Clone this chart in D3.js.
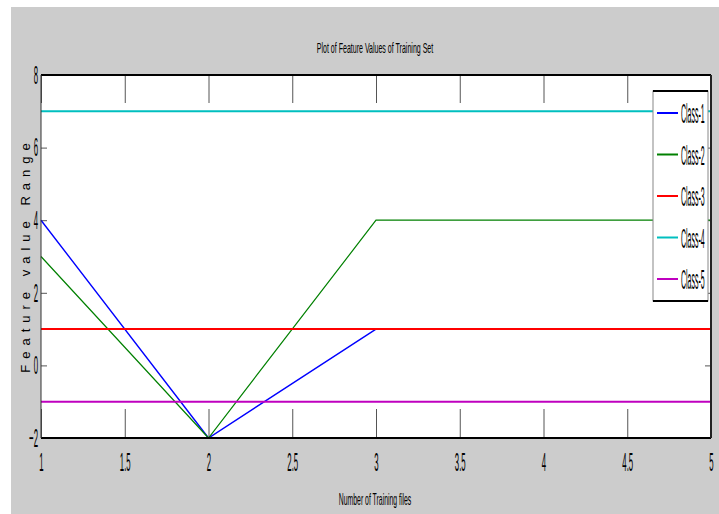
<!DOCTYPE html>
<html>
<head>
<meta charset="utf-8">
<script src="https://cdn.jsdelivr.net/npm/d3@7"></script>
<style>
  body { margin: 0; background: #fff; }
  svg { display: block; }
  text { font-family: "Liberation Sans", Arial, sans-serif; fill: #000; }
</style>
</head>
<body>
<svg id="chart" width="719" height="514"></svg>
<script>
// data
const classNames = ['Class-1', 'Class-2', 'Class-3', 'Class-4', 'Class-5'];
const classColors = ['#0000ff', '#008000', '#ff0000', '#00bfbf', '#bf00bf'];
const class1 = [[1, 4], [2, -2], [3, 1]];
const class2 = [[1, 3], [2, -2], [3, 4], [4, 4], [5, 4]];
const class3 = [[1, 1], [2, 1], [3, 1], [4, 1], [5, 1]];
const class4 = [[1, 7], [2, 7], [3, 7], [4, 7], [5, 7]];
const class5 = [[1, -1], [2, -1], [3, -1], [4, -1], [5, -1]];
const xTicks = [1, 1.5, 2, 2.5, 3, 3.5, 4, 4.5, 5];
const yTicks = [-2, 0, 2, 4, 6, 8];

const series = [class1, class2, class3, class4, class5];
const widths = [1.4, 1.2, 2, 2, 2];

const svg = d3.select('#chart');
const margin = {top: 75, right: 8, bottom: 76, left: 41};
const W = 719, H = 514;

// gray figure background
svg.append('rect')
  .attr('x', 11).attr('y', 7)
  .attr('width', W - 11).attr('height', H - 7)
  .attr('fill', '#cccccc');

const x = d3.scaleLinear().domain([1, 5]).range([margin.left, W - margin.right]);
const y = d3.scaleLinear().domain([-2, 8]).range([H - margin.bottom, margin.top]);

svg.append('rect')
  .attr('x', x(1)).attr('y', y(8))
  .attr('width', x(5) - x(1)).attr('height', y(-2) - y(8))
  .attr('fill', '#fff');

// squeeze tick text horizontally like the stretched original
const squeeze = (g, sx, xPos) => g.selectAll('text')
  .attr('font-size', 26)
  .attr('fill', '#112')
  .attr('x', xPos / sx)
  .attr('transform', `scale(${sx},1)`);

const tickStyle = g => {
  g.select('.domain').remove();
  g.selectAll('.tick line').attr('stroke', '#555').attr('stroke-width', 1);
};

svg.append('g')
  .attr('transform', `translate(0,${y(-2)})`)
  .call(d3.axisBottom(x).tickValues(xTicks).tickFormat(d3.format('')).tickSize(-29).tickPadding(15))
  .call(tickStyle)
  .call(g => squeeze(g, 0.3, 0));

svg.append('g')
  .attr('transform', `translate(0,${y(8)})`)
  .call(d3.axisTop(x).tickValues(xTicks).tickFormat('').tickSize(-28))
  .call(tickStyle);

svg.append('g')
  .attr('transform', `translate(${x(1)},0)`)
  .call(d3.axisLeft(y).tickValues(yTicks).tickFormat(d3.format('')).tickSize(-6))
  .call(tickStyle)
  .call(g => squeeze(g, 0.3, -3));

svg.append('g')
  .attr('transform', `translate(${x(5)},0)`)
  .call(d3.axisRight(y).tickValues(yTicks).tickFormat('').tickSize(-6))
  .call(tickStyle);

// lines
const line = d3.line().x(d => x(d[0])).y(d => y(d[1]));
series.forEach((s, i) => {
  svg.append('path')
    .datum(s)
    .attr('fill', 'none')
    .attr('stroke', classColors[i])
    .attr('stroke-width', widths[i])
    .attr('d', line);
});

// frame
svg.append('line').attr('x1', x(1)).attr('x2', x(5)).attr('y1', y(8)).attr('y2', y(8))
  .attr('stroke', '#000').attr('stroke-width', 2);
svg.append('line').attr('x1', x(1)).attr('x2', x(5)).attr('y1', y(-2)).attr('y2', y(-2))
  .attr('stroke', '#000').attr('stroke-width', 2);
svg.append('line').attr('x1', x(1)).attr('x2', x(1)).attr('y1', y(8)).attr('y2', y(-2))
  .attr('stroke', '#333').attr('stroke-width', 1);
svg.append('line').attr('x1', x(5)).attr('x2', x(5)).attr('y1', y(8)).attr('y2', y(-2))
  .attr('stroke', '#222').attr('stroke-width', 2);

// texts
svg.append('text')
  .attr('transform', 'translate(375,53) scale(0.47,1)')
  .attr('text-anchor', 'middle')
  .attr('font-size', 15)
  .attr('fill', '#111')
  .text('Plot of Feature Values of Training Set');

svg.append('text')
  .attr('transform', 'translate(375,505) scale(0.43,1)')
  .attr('text-anchor', 'middle')
  .attr('font-size', 16)
  .attr('fill', '#111')
  .text('Number of Training files');

svg.append('text')
  .attr('transform', `translate(30,255) rotate(-90)`)
  .attr('text-anchor', 'middle')
  .attr('font-size', 13)
  .attr('fill', '#222')
  .attr('letter-spacing', 6)
  .text('Feature value Range');

// legend
const lx = 653, lw = 55, ly = 91, lh = 210;
const legend = svg.append('g');
legend.append('rect')
  .attr('x', lx).attr('y', ly).attr('width', lw).attr('height', lh)
  .attr('fill', '#fff').attr('stroke', '#888').attr('stroke-width', 1);
legend.append('line').attr('x1', lx).attr('x2', lx + lw).attr('y1', ly).attr('y2', ly)
  .attr('stroke', '#000').attr('stroke-width', 2);
legend.append('line').attr('x1', lx).attr('x2', lx + lw).attr('y1', ly + lh).attr('y2', ly + lh)
  .attr('stroke', '#000').attr('stroke-width', 2);

const ly2 = d3.scalePoint().domain(classNames).range([113, 279]);
const entries = legend.selectAll('g.entry')
  .data(classNames)
  .join('g')
  .attr('class', 'entry')
  .attr('transform', d => `translate(0,${ly2(d)})`);
entries.append('line')
  .attr('x1', 657).attr('x2', 678)
  .attr('stroke', (d, i) => classColors[i])
  .attr('stroke-width', 2);
entries.append('text')
  .attr('transform', 'translate(681,10) scale(0.25,1)')
  .attr('font-size', 28)
  .attr('fill', '#111')
  .text(d => d);
</script>
</body>
</html>
